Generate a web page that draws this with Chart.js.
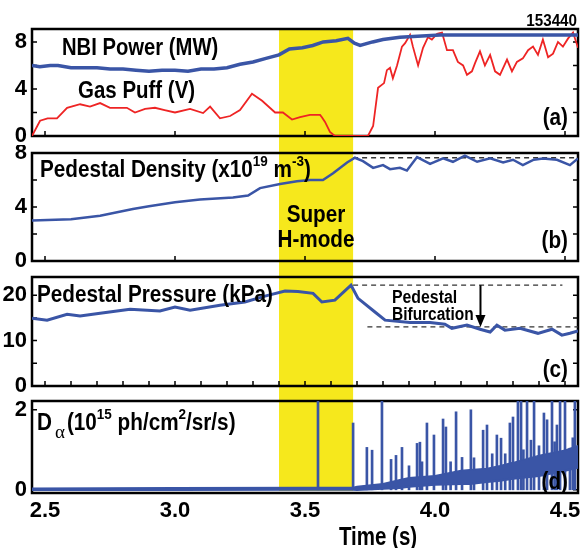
<!DOCTYPE html>
<html>
<head>
<meta charset="utf-8">
<script src="https://cdn.jsdelivr.net/npm/chart.js@4.4.1/dist/chart.umd.min.js"></script>
<style>
  html, body { margin: 0; padding: 0; background: #fff; }
  #wrap { position: relative; width: 582px; height: 548px; overflow: hidden; }
  canvas { position: absolute; left: 0; }
</style>
</head>
<body>
<div id="wrap">
  <canvas id="cA" width="582" height="145" style="top:0px"></canvas>
  <canvas id="cB" width="582" height="124" style="top:145px"></canvas>
  <canvas id="cC" width="582" height="124" style="top:269px"></canvas>
  <canvas id="cD" width="582" height="155" style="top:393px"></canvas>
</div>
<script>
// shot number, time window and the Super H-mode phase (s)
const shot = '153440';
const xMin = 2.45, xMax = 4.55;
const superH = [3.40, 3.685];
const xTickLabels = [2.5, 3.0, 3.5, 4.0, 4.5];

// (a) NBI power (MW)
const nbiT = [2.45,2.48,2.52,2.55,2.6,2.65,2.7,2.75,2.8,2.85,2.9,2.95,3.0,3.05,3.1,3.15,3.2,3.25,3.3,3.35,3.4,3.44,3.49,3.53,3.57,3.62,3.665,3.69,3.712,3.76,3.8,3.865,3.95,4.02,4.2,4.4,4.55];
const nbiV = [6.0,5.9,6.0,6.0,5.8,5.8,5.8,5.7,5.7,5.6,5.5,5.6,5.6,5.5,5.7,5.7,5.8,6.1,6.3,6.6,6.9,7.4,7.5,7.7,8.0,8.1,8.3,7.9,7.7,8.0,8.2,8.4,8.5,8.6,8.6,8.6,8.6];

// (a) gas puff (V)
const gasT = [2.45,2.481,2.51,2.546,2.585,2.635,2.673,2.712,2.75,2.815,2.846,2.885,2.923,2.96,3.0,3.058,3.108,3.135,3.173,3.212,3.25,3.296,3.335,3.385,3.415,3.45,3.481,3.519,3.558,3.565,3.577,3.596,3.615,3.742,3.762,3.781,3.804,3.815,3.827,3.838,3.854,3.873,3.885,3.904,3.915,3.935,3.954,3.973,3.988,4.008,4.027,4.046,4.069,4.088,4.108,4.123,4.142,4.154,4.173,4.192,4.212,4.231,4.25,4.277,4.296,4.315,4.338,4.358,4.377,4.396,4.415,4.435,4.454,4.473,4.492,4.512,4.531,4.55];
const gasV = [0,1.3,1.5,1.5,2.4,2.7,2.5,2.8,2.4,2.4,2.0,2.3,2.4,2.2,2.0,2.3,1.95,2.5,1.5,1.7,2.2,3.6,3.0,2.0,2.0,1.4,1.6,1.8,1.8,1.6,1.2,0.35,0,0,0.85,4.1,4.5,5.6,5.8,4.9,6.0,7.6,7.9,8.6,7.6,6.0,7.5,8.4,8.2,8.7,8.8,7.3,7.3,6.3,6.0,5.2,5.5,6.2,7.2,6.0,6.9,5.5,5.2,6.5,5.5,6.3,6.6,7.3,7.6,6.9,8.2,6.7,7.0,8.0,7.6,8.3,8.8,7.5];

// (b) pedestal density (1e19 m^-3)
const denT = [2.45,2.6,2.712,2.838,2.9,3.0,3.096,3.223,3.281,3.327,3.404,3.469,3.519,3.569,3.608,3.662,3.692,3.723,3.762,3.8,3.827,3.865,3.892,3.931,3.981,4.031,4.069,4.115,4.162,4.212,4.262,4.3,4.338,4.38,4.415,4.469,4.519,4.55];
const denV = [3.0,3.1,3.35,3.85,4.05,4.35,4.55,4.7,4.85,5.4,5.7,5.9,6.0,6.0,6.5,7.3,7.65,7.4,6.9,7.1,6.8,6.9,6.7,7.7,7.2,7.6,7.35,7.8,7.35,7.6,7.3,7.5,7.1,7.5,7.6,7.5,7.1,7.6];
const densityTop = 7.65;

// (c) pedestal pressure (kPa)
const presT = [2.45,2.508,2.585,2.635,2.712,2.827,2.942,3.0,3.058,3.173,3.269,3.346,3.423,3.473,3.531,3.565,3.615,3.677,3.704,3.769,3.808,3.904,3.981,4.038,4.065,4.123,4.173,4.212,4.238,4.269,4.327,4.396,4.45,4.488,4.519,4.55];
const presV = [14.9,14.5,15.8,15.4,16.0,16.9,16.5,17.4,16.7,17.8,18.5,19.8,20.9,20.8,20.4,18.5,18.9,22.2,19.3,16.3,14.5,14.0,14.0,13.6,12.7,13.4,12.5,11.9,13.4,12.3,12.7,11.6,12.5,11.2,11.6,12.1];
const pressHigh = 22.2, pressLow = 13.0;
const pressHighEnd = 4.49, pressLowStart = 3.74, arrowT = 4.173;

// (d) D-alpha (1e15 ph/cm2/sr/s): noisy band edges and ELM spikes
const daT    = [2.45,3.0,3.5,3.685,3.7,3.8,3.865,3.9,4.0,4.1,4.135,4.2,4.25,4.3,4.4,4.5,4.55];
const daLow  = [0,0,0.01,0.01,0.0,0.03,0.05,0.08,0.13,0.15,0.15,0.2,0.23,0.28,0.35,0.48,0.56];
const daHigh = [0.04,0.05,0.06,0.06,0.08,0.15,0.25,0.3,0.35,0.48,0.5,0.53,0.6,0.68,0.86,0.99,1.1];
const spikeT = [3.55,3.685,3.738,3.758,3.796,3.831,3.85,3.873,3.9,3.931,3.942,3.95,3.969,3.996,4.031,4.042,4.06,4.081,4.104,4.138,4.15,4.185,4.2,4.22,4.238,4.254,4.27,4.288,4.3,4.319,4.331,4.34,4.354,4.369,4.381,4.4,4.419,4.431,4.45,4.46,4.469,4.481,4.5,4.519,4.53,4.538];
const spikeH = [2.3,1.67,1.06,0.99,2.3,0.76,0.86,1.06,0.6,1.16,1.19,0.7,1.67,1.37,1.77,1.57,0.7,1.95,0.81,2.0,0.8,1.49,1.62,0.9,1.37,1.29,0.9,1.67,1.82,2.3,2.3,1.0,2.3,1.24,2.3,1.1,1.92,1.75,2.3,1.2,1.62,2.3,2.3,1.04,1.3,2.3];

const FONT = "'Liberation Sans', Arial, Helvetica, sans-serif";
const SERIF = "'Liberation Serif', 'DejaVu Serif', serif";
const BLUE = '#3a55a6', RED = '#ee2424', YEL = '#f6e81c';
const pageTop = { cA: 0, cB: 145, cC: 269, cD: 393 };

const pts = (t, v) => t.map((x, i) => ({ x: x, y: v[i] }));

const fontOf = p => (p.w || 'bold') + ' ' + p.s + 'px ' + (p.f || FONT);

// draw a run of text pieces, squeezed horizontally like the condensed original
function run(ctx, x, y, parts, align) {
  let total = 0;
  parts.forEach(p => {
    ctx.font = fontOf(p);
    total += ctx.measureText(p.t).width * (p.sx || 0.9) + (p.gap || 0);
  });
  let cx = align === 'right' ? x - total : align === 'center' ? x - total / 2 : x;
  parts.forEach(p => {
    const sx = p.sx || 0.9;
    ctx.save();
    ctx.font = fontOf(p);
    const w = ctx.measureText(p.t).width * sx;
    ctx.fillStyle = '#000';
    ctx.textBaseline = 'alphabetic';
    ctx.translate(cx, y + (p.dy || 0));
    ctx.scale(sx, 1);
    ctx.fillText(p.t, 0, 0);
    ctx.restore();
    cx += w + (p.gap || 0);
  });
}

const decor = {
  cA: {
    band: 'top', xMarks: [2.5, 3.0, 3.5, 4.0, 4.5],
    text(ctx) {
      run(ctx, 577, 26, [{ t: shot, s: 16, sx: 0.95 }], 'right');
      run(ctx, 62, 55, [{ t: 'NBI Power (MW)', s: 23, sx: 0.88 }]);
      run(ctx, 78, 98, [{ t: 'Gas Puff (V)', s: 23, sx: 0.89 }]);
      run(ctx, 568, 125, [{ t: '(a)', s: 23 }], 'right');
    }
  },
  cB: {
    band: 'mid', xMarks: [2.5, 3.0, 3.5, 4.0, 4.5],
    text(ctx) {
      run(ctx, 40, 177, [
        { t: 'Pedestal Density (x10', s: 23 },
        { t: '19', s: 15, dy: -11 },
        { t: ' m', s: 23 },
        { t: '-3', s: 15, dy: -11 },
        { t: ')', s: 23 }
      ]);
      run(ctx, 316, 222, [{ t: 'Super', s: 23 }], 'center');
      run(ctx, 316, 247, [{ t: 'H-mode', s: 23 }], 'center');
      run(ctx, 568, 248, [{ t: '(b)', s: 23 }], 'right');
    }
  },
  cC: {
    band: 'mid', xMarks: [2.5,2.6,2.7,2.8,2.9,3.0,3.1,3.2,3.3,3.4,3.5,3.6,3.7,3.8,3.9,4.0,4.1,4.2,4.3,4.4,4.5],
    text(ctx, chart) {
      run(ctx, 37, 302, [{ t: 'Pedestal Pressure (kPa)', s: 23 }]);
      run(ctx, 392, 303, [{ t: 'Pedestal', s: 18, sx: 0.88 }]);
      run(ctx, 392, 320, [{ t: 'Bifurcation', s: 18, sx: 0.86 }]);
      run(ctx, 568, 377, [{ t: '(c)', s: 23 }], 'right');
      // arrow from the upper to the lower pressure level
      const { x, y } = chart.scales;
      const ax = x.getPixelForValue(arrowT) + 0.5;
      const y0 = y.getPixelForValue(pressHigh) + pageTop.cC;
      const y1 = y.getPixelForValue(pressLow) + pageTop.cC;
      ctx.save();
      ctx.strokeStyle = '#000'; ctx.fillStyle = '#000'; ctx.lineWidth = 2;
      ctx.beginPath(); ctx.moveTo(ax, y0); ctx.lineTo(ax, y1 - 10); ctx.stroke();
      ctx.beginPath(); ctx.moveTo(ax - 5, y1 - 12); ctx.lineTo(ax + 5, y1 - 12); ctx.lineTo(ax, y1); ctx.closePath(); ctx.fill();
      ctx.restore();
    }
  },
  cD: {
    band: 'bottom', xMarks: [],
    text(ctx) {
      run(ctx, 37, 430, [
        { t: 'D', s: 23, gap: 3 },
        { t: 'α', s: 19, dy: 8, w: 'normal', f: SERIF, sx: 1, gap: 2 },
        { t: '(10', s: 23 },
        { t: '15', s: 15, dy: -11 },
        { t: ' ph/cm', s: 23 },
        { t: '2', s: 15, dy: -11 },
        { t: '/sr/s)', s: 23 }
      ]);
      run(ctx, 568, 489, [{ t: '(d)', s: 23 }], 'right');
      run(ctx, 378, 545, [{ t: 'Time (s)', s: 25, sx: 0.82 }], 'center');
    }
  }
};

const framePlugin = {
  id: 'frame',
  beforeDatasetsDraw(chart) {
    const d = decor[chart.canvas.id];
    const { ctx, chartArea: a, scales: { x, y } } = chart;
    const x0 = x.getPixelForValue(superH[0]);
    const x1 = x.getPixelForValue(superH[1]);
    const top = d.band === 'top' ? a.top : 0;
    const bottom = d.band === 'bottom' ? a.bottom - 2 : chart.height;
    ctx.save();
    ctx.fillStyle = YEL;
    ctx.fillRect(x0, top, x1 - x0, bottom - top);
    ctx.strokeStyle = '#000';
    ctx.lineWidth = 2.5;
    ctx.strokeRect(a.left, a.top, a.right - a.left, a.bottom - a.top);
    ctx.lineWidth = 1.5;
    ctx.beginPath();
    y.ticks.forEach(t => {
      const py = y.getPixelForValue(t.value);
      ctx.moveTo(a.left, py); ctx.lineTo(a.left + 5, py);
      ctx.moveTo(a.right, py); ctx.lineTo(a.right - 5, py);
    });
    d.xMarks.forEach(v => {
      const px = x.getPixelForValue(v);
      ctx.moveTo(px, a.bottom); ctx.lineTo(px, a.bottom - 5);
    });
    ctx.stroke();
    ctx.restore();
  },
  afterDatasetsDraw(chart) {
    const d = decor[chart.canvas.id];
    const ctx = chart.ctx;
    ctx.save();
    ctx.translate(0, -pageTop[chart.canvas.id]);
    d.text(ctx, chart);
    ctx.restore();
  }
};

const tickFont = { family: FONT, size: 22, weight: 'bold' };

function yAxis(min, max, marks, labels) {
  return {
    type: 'linear', min: min, max: max,
    afterBuildTicks: s => { s.ticks = marks.map(v => ({ value: v })); },
    afterFit: s => { s.width = 32; s.paddingTop = 0; s.paddingBottom = 0; },
    grid: { display: false, drawTicks: false },
    border: { display: false },
    ticks: {
      font: tickFont, color: '#000', padding: 5, autoSkip: false,
      callback: v => labels.includes(v) ? String(v) : ''
    }
  };
}

function xAxis(show) {
  const ax = {
    type: 'linear', min: xMin, max: xMax, offset: false, display: show,
    grid: { display: false, drawTicks: false },
    border: { display: false }
  };
  if (show) {
    ax.afterBuildTicks = s => { s.ticks = xTickLabels.map(v => ({ value: v })); };
    ax.afterFit = s => { s.height = 55; s.paddingLeft = 0; s.paddingRight = 0; };
    ax.ticks = { font: tickFont, color: '#000', padding: 5, maxRotation: 0, autoSkip: false,
                 callback: v => v.toFixed(1) };
  }
  return ax;
}

function panel(id, datasets, y, pad, showX) {
  return new Chart(document.getElementById(id), {
    type: 'line',
    data: { datasets: datasets },
    options: {
      responsive: false,
      animation: false,
      events: [],
      layout: { padding: pad },
      elements: { point: { radius: 0 }, line: { tension: 0 } },
      plugins: { legend: { display: false }, tooltip: { enabled: false } },
      scales: { x: xAxis(showX), y: y }
    },
    plugins: [framePlugin]
  });
}

panel('cA', [
  { data: pts(nbiT, nbiV), borderColor: BLUE, borderWidth: 3.5 },
  { data: pts(gasT, gasV), borderColor: RED, borderWidth: 1.8 }
], yAxis(0, 9.1, [0, 2, 4, 6, 8], [0, 4, 8]), { left: 0, right: 4, top: 29, bottom: 9 }, false);

panel('cB', [
  { data: pts(denT, denV), borderColor: BLUE, borderWidth: 2.5 },
  { data: [{ x: superH[1], y: densityTop }, { x: xMax, y: densityTop }],
    borderColor: '#333', borderWidth: 1.3, borderDash: [5, 4] }
], yAxis(0, 8, [0, 2, 4, 6, 8], [0, 4, 8]), { left: 0, right: 4, top: 8, bottom: 8 }, false);

panel('cC', [
  { data: pts(presT, presV), borderColor: BLUE, borderWidth: 3 },
  { data: [{ x: superH[1], y: pressHigh }, { x: pressHighEnd, y: pressHigh }],
    borderColor: '#333', borderWidth: 1.3, borderDash: [5, 4] },
  { data: [{ x: pressLowStart, y: pressLow }, { x: xMax, y: pressLow }],
    borderColor: '#333', borderWidth: 1.3, borderDash: [5, 4] }
], yAxis(0, 24, [0, 5, 10, 15, 20], [0, 10, 20]), { left: 0, right: 4, top: 8, bottom: 7 }, false);

panel('cD', [
  { data: pts(daT, daLow), borderColor: BLUE, borderWidth: 2.5 },
  { data: pts(daT, daHigh), borderColor: BLUE, borderWidth: 1.5, fill: '-1', backgroundColor: BLUE },
  { type: 'bar', data: pts(spikeT, spikeH), backgroundColor: BLUE, barThickness: 2, grouped: false }
], yAxis(-0.08, 2.22, [0, 2], [0, 2]), { left: 0, right: 4, top: 8, bottom: 0 }, true);
</script>
</body>
</html>
